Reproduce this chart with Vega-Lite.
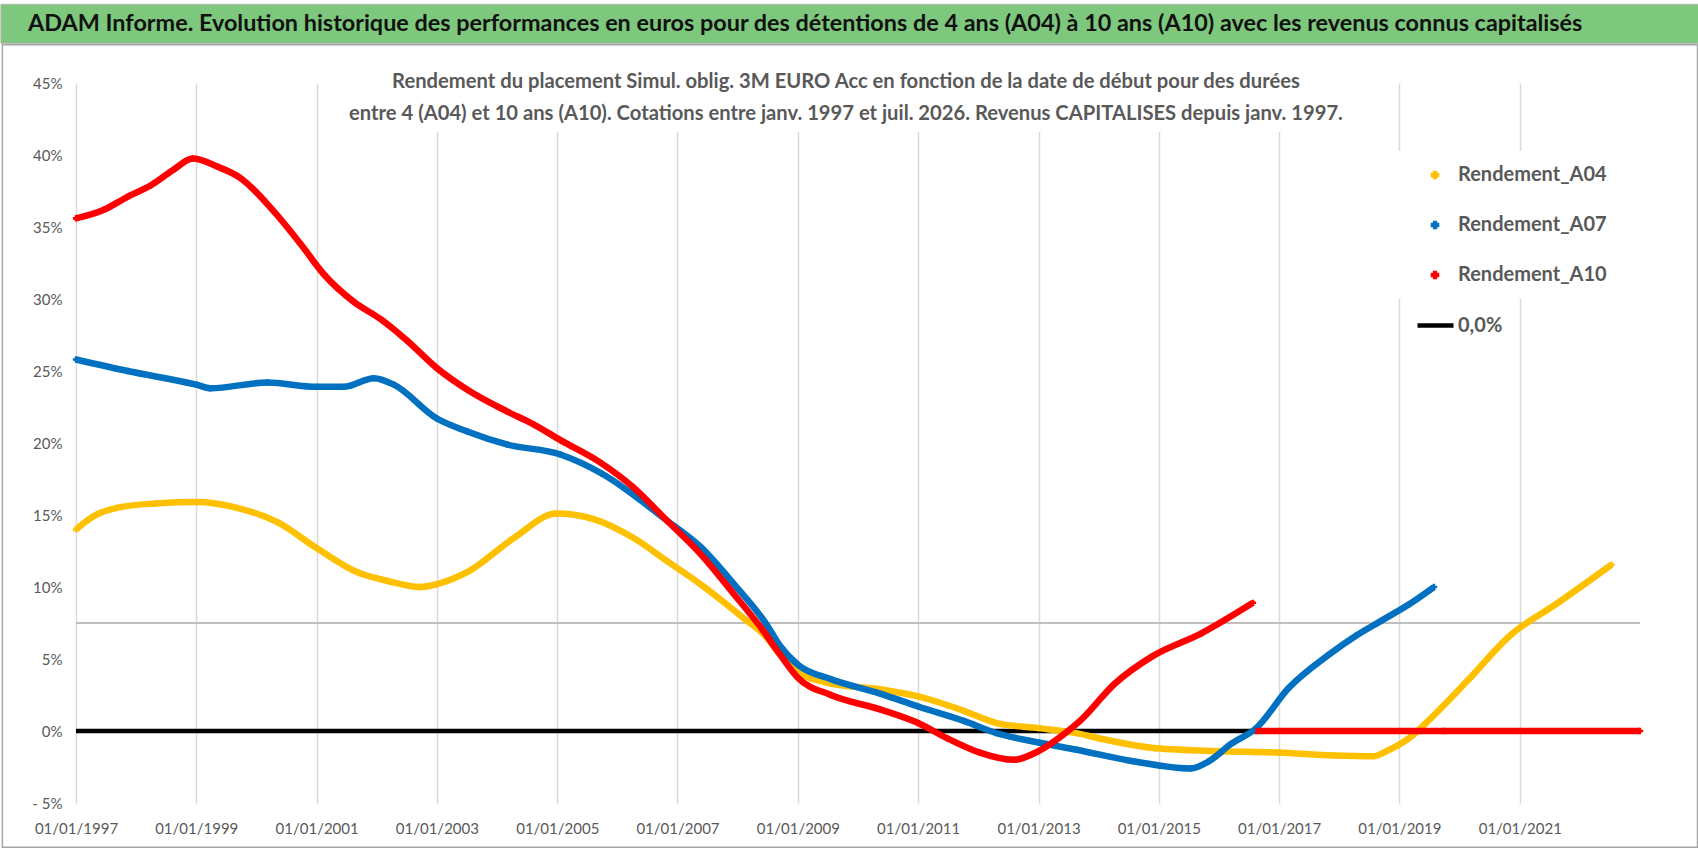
{
  "$schema": "https://vega.github.io/schema/vega-lite/v6.json",
  "background": "white",
  "padding": {"left": 0, "top": 3, "right": 0, "bottom": 0},
  "width": 1564,
  "height": 720,
  "config": {
    "view": {"stroke": null},
    "font": "Lato",
    "axis": {"labelFont": "Lato", "labelFontSize": 15, "labelColor": "#595959", "gridColor": "#d9d9d9", "gridWidth": 1.5, "domain": false, "ticks": false, "title": null},
    "legend": {"labelFont": "Lato", "labelFontSize": 20, "labelFontWeight": "bold", "labelColor": "#595959", "labelLimit": 300, "title": null}
  },
  "datasets": {
    "series": [
      {"date": "1997-01-01", "value": 14.0, "serie": "Rendement_A04", "seg": "a"},
      {"date": "1997-04-15", "value": 14.9, "serie": "Rendement_A04", "seg": "a"},
      {"date": "1997-09-06", "value": 15.5, "serie": "Rendement_A04", "seg": "a"},
      {"date": "1998-05-01", "value": 15.8, "serie": "Rendement_A04", "seg": "a"},
      {"date": "1999-01-01", "value": 15.9, "serie": "Rendement_A04", "seg": "a"},
      {"date": "1999-09-05", "value": 15.5, "serie": "Rendement_A04", "seg": "a"},
      {"date": "2000-05-08", "value": 14.5, "serie": "Rendement_A04", "seg": "a"},
      {"date": "2001-01-01", "value": 12.7, "serie": "Rendement_A04", "seg": "a"},
      {"date": "2001-09-10", "value": 11.0, "serie": "Rendement_A04", "seg": "a"},
      {"date": "2002-03-15", "value": 10.4, "serie": "Rendement_A04", "seg": "a"},
      {"date": "2002-09-20", "value": 10.0, "serie": "Rendement_A04", "seg": "a"},
      {"date": "2003-01-01", "value": 10.2, "serie": "Rendement_A04", "seg": "a"},
      {"date": "2003-07-15", "value": 11.1, "serie": "Rendement_A04", "seg": "a"},
      {"date": "2004-04-12", "value": 13.4, "serie": "Rendement_A04", "seg": "a"},
      {"date": "2004-12-28", "value": 15.1, "serie": "Rendement_A04", "seg": "a"},
      {"date": "2005-08-15", "value": 14.7, "serie": "Rendement_A04", "seg": "a"},
      {"date": "2006-04-10", "value": 13.4, "serie": "Rendement_A04", "seg": "a"},
      {"date": "2006-10-30", "value": 11.8, "serie": "Rendement_A04", "seg": "a"},
      {"date": "2007-05-20", "value": 10.2, "serie": "Rendement_A04", "seg": "a"},
      {"date": "2008-02-05", "value": 7.85, "serie": "Rendement_A04", "seg": "a"},
      {"date": "2008-06-25", "value": 6.5, "serie": "Rendement_A04", "seg": "a"},
      {"date": "2008-09-15", "value": 5.3, "serie": "Rendement_A04", "seg": "a"},
      {"date": "2009-01-01", "value": 4.1, "serie": "Rendement_A04", "seg": "a"},
      {"date": "2009-07-20", "value": 3.3, "serie": "Rendement_A04", "seg": "a"},
      {"date": "2010-05-15", "value": 2.9, "serie": "Rendement_A04", "seg": "a"},
      {"date": "2011-01-01", "value": 2.4, "serie": "Rendement_A04", "seg": "a"},
      {"date": "2011-10-05", "value": 1.4, "serie": "Rendement_A04", "seg": "a"},
      {"date": "2012-04-22", "value": 0.55, "serie": "Rendement_A04", "seg": "a"},
      {"date": "2013-01-01", "value": 0.2, "serie": "Rendement_A04", "seg": "a"},
      {"date": "2013-08-20", "value": -0.15, "serie": "Rendement_A04", "seg": "a"},
      {"date": "2014-01-01", "value": -0.5, "serie": "Rendement_A04", "seg": "a"},
      {"date": "2014-12-15", "value": -1.2, "serie": "Rendement_A04", "seg": "a"},
      {"date": "2016-01-20", "value": -1.4, "serie": "Rendement_A04", "seg": "a"},
      {"date": "2016-12-25", "value": -1.5, "serie": "Rendement_A04", "seg": "a"},
      {"date": "2017-11-28", "value": -1.7, "serie": "Rendement_A04", "seg": "a"},
      {"date": "2018-07-30", "value": -1.75, "serie": "Rendement_A04", "seg": "a"},
      {"date": "2018-10-15", "value": -1.4, "serie": "Rendement_A04", "seg": "a"},
      {"date": "2019-03-01", "value": -0.5, "serie": "Rendement_A04", "seg": "a"},
      {"date": "2019-07-12", "value": 0.9, "serie": "Rendement_A04", "seg": "a"},
      {"date": "2020-02-15", "value": 3.45, "serie": "Rendement_A04", "seg": "a"},
      {"date": "2020-11-10", "value": 6.7, "serie": "Rendement_A04", "seg": "a"},
      {"date": "2021-08-08", "value": 8.8, "serie": "Rendement_A04", "seg": "a"},
      {"date": "2022-07-12", "value": 11.55, "serie": "Rendement_A04", "seg": "a"},

      {"date": "1997-01-01", "value": 25.8, "serie": "Rendement_A07", "seg": "a"},
      {"date": "1997-11-10", "value": 25.0, "serie": "Rendement_A07", "seg": "a"},
      {"date": "1999-01-01", "value": 24.05, "serie": "Rendement_A07", "seg": "a"},
      {"date": "1999-03-28", "value": 23.8, "serie": "Rendement_A07", "seg": "a"},
      {"date": "2000-03-07", "value": 24.2, "serie": "Rendement_A07", "seg": "a"},
      {"date": "2001-01-01", "value": 23.9, "serie": "Rendement_A07", "seg": "a"},
      {"date": "2001-06-15", "value": 23.9, "serie": "Rendement_A07", "seg": "a"},
      {"date": "2001-12-15", "value": 24.5, "serie": "Rendement_A07", "seg": "a"},
      {"date": "2002-04-15", "value": 24.05, "serie": "Rendement_A07", "seg": "a"},
      {"date": "2003-01-01", "value": 21.7, "serie": "Rendement_A07", "seg": "a"},
      {"date": "2003-07-05", "value": 20.8, "serie": "Rendement_A07", "seg": "a"},
      {"date": "2004-03-01", "value": 19.9, "serie": "Rendement_A07", "seg": "a"},
      {"date": "2005-01-20", "value": 19.2, "serie": "Rendement_A07", "seg": "a"},
      {"date": "2005-09-25", "value": 17.9, "serie": "Rendement_A07", "seg": "a"},
      {"date": "2006-10-30", "value": 14.6, "serie": "Rendement_A07", "seg": "a"},
      {"date": "2007-05-20", "value": 12.8, "serie": "Rendement_A07", "seg": "a"},
      {"date": "2007-12-10", "value": 10.2, "serie": "Rendement_A07", "seg": "a"},
      {"date": "2008-06-25", "value": 7.4, "serie": "Rendement_A07", "seg": "a"},
      {"date": "2008-09-15", "value": 5.9, "serie": "Rendement_A07", "seg": "a"},
      {"date": "2009-01-01", "value": 4.6, "serie": "Rendement_A07", "seg": "a"},
      {"date": "2009-07-20", "value": 3.6, "serie": "Rendement_A07", "seg": "a"},
      {"date": "2010-05-15", "value": 2.6, "serie": "Rendement_A07", "seg": "a"},
      {"date": "2011-01-01", "value": 1.7, "serie": "Rendement_A07", "seg": "a"},
      {"date": "2011-10-05", "value": 0.7, "serie": "Rendement_A07", "seg": "a"},
      {"date": "2012-04-22", "value": -0.15, "serie": "Rendement_A07", "seg": "a"},
      {"date": "2013-01-01", "value": -0.8, "serie": "Rendement_A07", "seg": "a"},
      {"date": "2013-08-20", "value": -1.3, "serie": "Rendement_A07", "seg": "a"},
      {"date": "2014-07-30", "value": -2.1, "serie": "Rendement_A07", "seg": "a"},
      {"date": "2015-07-15", "value": -2.6, "serie": "Rendement_A07", "seg": "a"},
      {"date": "2015-11-01", "value": -2.1, "serie": "Rendement_A07", "seg": "a"},
      {"date": "2016-03-15", "value": -0.9, "serie": "Rendement_A07", "seg": "a"},
      {"date": "2016-08-15", "value": 0.2, "serie": "Rendement_A07", "seg": "a"},
      {"date": "2017-03-01", "value": 3.0, "serie": "Rendement_A07", "seg": "a"},
      {"date": "2017-10-30", "value": 5.3, "serie": "Rendement_A07", "seg": "a"},
      {"date": "2018-04-10", "value": 6.6, "serie": "Rendement_A07", "seg": "a"},
      {"date": "2018-09-20", "value": 7.7, "serie": "Rendement_A07", "seg": "a"},
      {"date": "2019-03-01", "value": 8.8, "serie": "Rendement_A07", "seg": "a"},
      {"date": "2019-07-30", "value": 10.0, "serie": "Rendement_A07", "seg": "a"},

      {"date": "1997-01-01", "value": 35.6, "serie": "Rendement_A10", "seg": "a"},
      {"date": "1997-06-20", "value": 36.2, "serie": "Rendement_A10", "seg": "a"},
      {"date": "1997-11-10", "value": 37.1, "serie": "Rendement_A10", "seg": "a"},
      {"date": "1998-04-01", "value": 37.9, "serie": "Rendement_A10", "seg": "a"},
      {"date": "1998-08-18", "value": 39.0, "serie": "Rendement_A10", "seg": "a"},
      {"date": "1998-12-10", "value": 39.75, "serie": "Rendement_A10", "seg": "a"},
      {"date": "1999-05-08", "value": 39.2, "serie": "Rendement_A10", "seg": "a"},
      {"date": "1999-09-27", "value": 38.4, "serie": "Rendement_A10", "seg": "a"},
      {"date": "2000-04-15", "value": 36.1, "serie": "Rendement_A10", "seg": "a"},
      {"date": "2000-09-27", "value": 33.8, "serie": "Rendement_A10", "seg": "a"},
      {"date": "2001-02-15", "value": 31.7, "serie": "Rendement_A10", "seg": "a"},
      {"date": "2001-08-15", "value": 29.8, "serie": "Rendement_A10", "seg": "a"},
      {"date": "2002-01-25", "value": 28.6, "serie": "Rendement_A10", "seg": "a"},
      {"date": "2002-07-05", "value": 27.1, "serie": "Rendement_A10", "seg": "a"},
      {"date": "2003-01-01", "value": 25.2, "serie": "Rendement_A10", "seg": "a"},
      {"date": "2003-07-05", "value": 23.7, "serie": "Rendement_A10", "seg": "a"},
      {"date": "2004-03-01", "value": 22.2, "serie": "Rendement_A10", "seg": "a"},
      {"date": "2004-08-10", "value": 21.3, "serie": "Rendement_A10", "seg": "a"},
      {"date": "2005-01-20", "value": 20.2, "serie": "Rendement_A10", "seg": "a"},
      {"date": "2005-09-25", "value": 18.6, "serie": "Rendement_A10", "seg": "a"},
      {"date": "2006-04-10", "value": 16.9, "serie": "Rendement_A10", "seg": "a"},
      {"date": "2006-10-30", "value": 14.6, "serie": "Rendement_A10", "seg": "a"},
      {"date": "2007-05-20", "value": 12.3, "serie": "Rendement_A10", "seg": "a"},
      {"date": "2007-12-10", "value": 9.5, "serie": "Rendement_A10", "seg": "a"},
      {"date": "2008-05-20", "value": 7.2, "serie": "Rendement_A10", "seg": "a"},
      {"date": "2008-09-15", "value": 5.3, "serie": "Rendement_A10", "seg": "a"},
      {"date": "2009-01-01", "value": 3.7, "serie": "Rendement_A10", "seg": "a"},
      {"date": "2009-07-20", "value": 2.5, "serie": "Rendement_A10", "seg": "a"},
      {"date": "2010-05-15", "value": 1.5, "serie": "Rendement_A10", "seg": "a"},
      {"date": "2011-01-01", "value": 0.55, "serie": "Rendement_A10", "seg": "a"},
      {"date": "2011-06-25", "value": -0.5, "serie": "Rendement_A10", "seg": "a"},
      {"date": "2012-01-10", "value": -1.5, "serie": "Rendement_A10", "seg": "a"},
      {"date": "2012-08-05", "value": -2.0, "serie": "Rendement_A10", "seg": "a"},
      {"date": "2013-01-01", "value": -1.4, "serie": "Rendement_A10", "seg": "a"},
      {"date": "2013-06-01", "value": -0.25, "serie": "Rendement_A10", "seg": "a"},
      {"date": "2013-09-10", "value": 0.7, "serie": "Rendement_A10", "seg": "a"},
      {"date": "2014-04-10", "value": 3.3, "serie": "Rendement_A10", "seg": "a"},
      {"date": "2014-11-25", "value": 5.2, "serie": "Rendement_A10", "seg": "a"},
      {"date": "2015-09-20", "value": 6.8, "serie": "Rendement_A10", "seg": "a"},
      {"date": "2016-07-26", "value": 8.9, "serie": "Rendement_A10", "seg": "a"},
      {"date": "2016-08-10", "value": 0, "serie": "Rendement_A10", "seg": "b"},
      {"date": "2019-10-01", "value": 0, "serie": "Rendement_A10", "seg": "b"},
      {"date": "2023-01-01", "value": 0, "serie": "Rendement_A10", "seg": "b"}
    ],
    "zero": [
      {"date": "1997-01-01", "value": 0, "serie": "0,0%"},
      {"date": "2023-01-01", "value": 0, "serie": "0,0%"}
    ],
    "textes": [
      {
        "titre": "ADAM Informe. Evolution historique des performances en euros pour des détentions de 4 ans (A04) à 10 ans (A10) avec les revenus connus capitalisés",
        "ligne1": "Rendement du placement Simul. oblig. 3M EURO Acc en fonction de la date de début pour des durées",
        "ligne2": "entre 4 (A04) et 10 ans (A10).  Cotations entre janv. 1997 et juil. 2026. Revenus CAPITALISES depuis janv. 1997."
      }
    ]
  },
  "layer": [
    {
      "data": {"name": "textes"},
      "mark": {"type": "rect", "filled": false, "color": "#a6a6a6", "strokeWidth": 1.5},
      "encoding": {
        "x": {"datum": {"year": 1995, "month": 10, "date": 12, "utc": true}, "type": "temporal"},
        "x2": {"datum": {"year": 2023, "month": 12, "date": 16, "utc": true}},
        "y": {"datum": -8.08, "type": "quantitative"},
        "y2": {"datum": 47.65}
      }
    },
    {
      "data": {"name": "textes"},
      "mark": {"type": "rect", "color": "#7dc87d", "stroke": "#b4b4b4", "strokeWidth": 1},
      "encoding": {
        "x": {"datum": {"year": 1995, "month": 10, "date": 3, "utc": true}, "type": "temporal"},
        "x2": {"datum": {"year": 2023, "month": 12, "date": 24, "utc": true}},
        "y": {"datum": 47.757, "type": "quantitative"},
        "y2": {"datum": 50.465}
      }
    },
    {
      "data": {"name": "textes"},
      "mark": {"type": "text", "align": "left", "baseline": "middle", "font": "Lato", "fontSize": 23.4, "fontWeight": "bold", "color": "#111111"},
      "encoding": {
        "x": {"datum": {"year": 1996, "month": 3, "date": 16, "utc": true}, "type": "temporal"},
        "y": {"datum": 49.11, "type": "quantitative"},
        "text": {"field": "titre", "type": "nominal"}
      }
    },
    {
      "data": {"name": "textes"},
      "mark": {"type": "rect", "color": "white"},
      "encoding": {
        "x": {"datum": {"year": 2001, "month": 3, "date": 15, "utc": true}, "type": "temporal"},
        "x2": {"datum": {"year": 2018, "month": 2, "date": 15, "utc": true}},
        "y": {"datum": 41.6, "type": "quantitative"},
        "y2": {"datum": 45.25}
      }
    },
    {
      "data": {"name": "textes"},
      "mark": {"type": "text", "align": "center", "baseline": "middle", "font": "Lato", "fontSize": 20.2, "fontWeight": "bold", "color": "#595959"},
      "encoding": {
        "x": {"datum": {"year": 2009, "month": 10, "date": 20, "utc": true}, "type": "temporal"},
        "y": {"datum": 45.08, "type": "quantitative"},
        "text": {"field": "ligne1", "type": "nominal"}
      }
    },
    {
      "data": {"name": "textes"},
      "mark": {"type": "text", "align": "center", "baseline": "middle", "font": "Lato", "fontSize": 20.2, "fontWeight": "bold", "color": "#595959"},
      "encoding": {
        "x": {"datum": {"year": 2009, "month": 10, "date": 20, "utc": true}, "type": "temporal"},
        "y": {"datum": 42.85, "type": "quantitative"},
        "text": {"field": "ligne2", "type": "nominal"}
      }
    },
    {
      "data": {"name": "zero"},
      "mark": {"type": "rule", "color": "#bfbfbf", "strokeWidth": 2},
      "encoding": {"y": {"datum": 7.5, "type": "quantitative"}}
    },
    {
      "data": {"name": "zero"},
      "mark": {"type": "line", "strokeWidth": 4.5},
      "encoding": {
        "x": {"field": "date", "type": "temporal"},
        "y": {"field": "value", "type": "quantitative"},
        "stroke": {
          "field": "serie", "type": "nominal",
          "scale": {"domain": ["0,0%"], "range": ["#000000"]},
          "legend": {"orient": "none", "legendX": 1339, "legendY": 222, "symbolType": "stroke", "symbolSize": 1296, "symbolStrokeWidth": 4.5, "labelOffset": 2, "padding": 0}
        }
      }
    },
    {
      "data": {"name": "series"},
      "mark": {"type": "point", "shape": "cross", "filled": true, "size": 40, "opacity": 1},
      "encoding": {
        "x": {"field": "date", "type": "temporal"},
        "y": {"field": "value", "type": "quantitative"},
        "color": {
          "field": "serie", "type": "nominal",
          "scale": {"domain": ["Rendement_A04", "Rendement_A07", "Rendement_A10"], "range": ["#ffc000", "#0070c0", "#ff0000"]},
          "legend": {"orient": "none", "legendX": 1309, "legendY": 68, "symbolType": "cross", "symbolSize": 50, "symbolOffset": 26, "labelOffset": 13, "padding": 14, "rowPadding": 30, "fillColor": "white"}
        }
      }
    },
    {
      "data": {"name": "series"},
      "mark": {"type": "line", "strokeWidth": 6.5, "interpolate": "monotone"},
      "encoding": {
        "x": {
          "field": "date", "type": "temporal",
          "scale": {"type": "utc", "nice": false, "domain": [{"year": 1997, "month": 1, "date": 1, "utc": true}, {"year": 2023, "month": 1, "date": 1, "utc": true}]},
          "axis": {
            "values": [
              {"year": 1997, "month": 1, "date": 1, "utc": true},
              {"year": 1999, "month": 1, "date": 1, "utc": true},
              {"year": 2001, "month": 1, "date": 1, "utc": true},
              {"year": 2003, "month": 1, "date": 1, "utc": true},
              {"year": 2005, "month": 1, "date": 1, "utc": true},
              {"year": 2007, "month": 1, "date": 1, "utc": true},
              {"year": 2009, "month": 1, "date": 1, "utc": true},
              {"year": 2011, "month": 1, "date": 1, "utc": true},
              {"year": 2013, "month": 1, "date": 1, "utc": true},
              {"year": 2015, "month": 1, "date": 1, "utc": true},
              {"year": 2017, "month": 1, "date": 1, "utc": true},
              {"year": 2019, "month": 1, "date": 1, "utc": true},
              {"year": 2021, "month": 1, "date": 1, "utc": true}
            ],
            "format": "%d/%m/%Y",
            "grid": true,
            "labelOverlap": false,
            "labelFlush": false,
            "labelPadding": 18
          }
        },
        "y": {
          "field": "value", "type": "quantitative",
          "scale": {"domain": [-5, 45], "nice": false, "zero": false},
          "axis": {
            "values": [-5, 0, 5, 10, 15, 20, 25, 30, 35, 40, 45],
            "labelExpr": "datum.value < 0 ? '- ' + abs(datum.value) + '%' : datum.value + '%'",
            "labelPadding": 14,
            "minExtent": 75,
            "maxExtent": 75
          }
        },
        "color": {"field": "serie", "type": "nominal"},
        "detail": {"field": "seg", "type": "nominal"}
      }
    }
  ]
}
